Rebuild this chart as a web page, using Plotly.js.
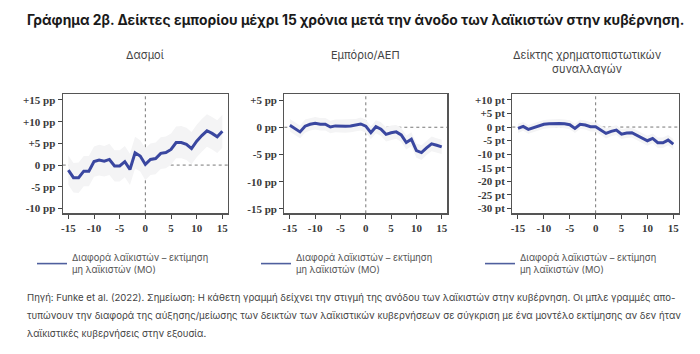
<!DOCTYPE html>
<html>
<head>
<meta charset="utf-8">
<script src="https://cdn.plot.ly/plotly-3.0.1.min.js"></script>
<style>html,body{margin:0;padding:0;background:#fff;}#chart{width:700px;height:354px;}</style>
</head>
<body>
<div id="chart"></div>
<script>
// ---- data ----
const years = [-15,-14,-13,-12,-11,-10,-9,-8,-7,-6,-5,-4,-3,-2,-1,0,1,2,3,4,5,6,7,8,9,10,11,12,13,14,15];

const tariffs      = [-1.15,-2.9,-2.9,-1.4,-1.4,0.8,1.15,0.9,1.3,-0.2,-0.2,0.8,-1.0,2.85,2.1,0.15,1.3,1.5,2.7,2.9,3.6,5.2,5.2,4.8,3.8,5.5,6.8,7.9,7.3,6.5,7.8];
const tariffsLow   = [-4.5,-6.3,-6.4,-4.9,-4.9,-2.7,-2.4,-2.6,-2.3,-3.8,-3.8,-2.8,-4.6,-0.8,-1.5,-3.5,-2.3,-2.1,-0.9,-0.7,0.1,1.6,1.6,1.2,0.2,1.8,3.1,4.2,3.6,2.8,4.0];
const tariffsHigh  = [2.2,0.5,0.6,2.1,2.1,4.3,4.7,4.4,4.9,3.4,3.4,4.4,2.6,6.5,5.7,3.9,5.0,5.2,6.4,6.6,7.3,8.9,9.0,8.6,7.6,9.3,10.6,11.7,11.1,10.3,11.6];

const trade        = [0.37,-0.25,-0.85,0.2,0.55,0.75,0.55,0.55,0.05,0.25,0.2,0.2,0.25,0.37,0.6,0.2,-1.0,0.1,-0.35,-1.3,-1.0,-0.85,-1.4,-2.8,-2.2,-4.3,-4.65,-3.8,-3.05,-3.3,-3.6];
const tradeLow     = [-0.8,-1.4,-2.0,-1.0,-0.6,-0.4,-0.6,-0.6,-1.1,-0.9,-1.0,-1.0,-0.9,-0.8,-0.6,-1.0,-2.2,-1.1,-1.6,-2.6,-2.3,-2.1,-2.7,-4.1,-3.5,-5.6,-6.0,-5.1,-4.4,-4.6,-4.9];
const tradeHigh    = [1.5,0.9,0.3,1.4,1.7,1.9,1.7,1.7,1.2,1.4,1.4,1.4,1.4,1.5,1.8,1.4,0.2,1.3,0.9,0.0,0.3,0.4,-0.1,-1.5,-0.9,-3.0,-3.3,-2.5,-1.7,-2.0,-2.3];

const finance      = [-0.5,0.25,-0.85,-0.25,0.35,1.0,1.2,1.35,1.35,1.2,0.85,-0.5,1.0,0.75,0.1,0.1,-1.1,-2.35,-1.6,-1.1,-2.6,-2.2,-2.1,-3.1,-4.1,-5.05,-4.2,-5.8,-5.8,-4.8,-6.3];
const financeLow   = [-2.2,-1.4,-2.5,-1.9,-1.3,-0.6,-0.4,-0.3,-0.3,-0.4,-0.8,-2.2,-0.7,-0.9,-1.6,-1.6,-2.9,-4.2,-3.4,-2.9,-4.4,-4.0,-3.9,-4.9,-5.9,-6.9,-6.0,-7.7,-7.7,-6.7,-8.2];
const financeHigh  = [1.2,1.9,0.8,1.4,2.0,2.6,2.8,3.0,3.0,2.8,2.5,1.2,2.7,2.4,1.8,1.8,0.7,-0.5,0.2,0.7,-0.8,-0.4,-0.3,-1.3,-2.3,-3.2,-2.4,-3.9,-3.9,-2.9,-4.4];

const panelTitles = ["Δασμοί", "Εμπόριο/ΑΕΠ", "Δείκτης χρηματοπιστωτικών<br>συναλλαγών"];
const xTickVals = [-15,-10,-5,0,5,10,15];
const xTickText = ["-15","-10","-5","0","5","10","15"];
const y1TickVals = [15,10,5,0,-5,-10];
const y1TickText = ["+15 pp","+10 pp","+5 pp","0 pp","-5 pp","-10 pp"];
const y2TickVals = [5,0,-5,-10,-15];
const y2TickText = ["+5 pp","0 pp","-5 pp","-10 pp","-15 pp"];
const y3TickVals = [10,5,0,-5,-10,-15,-20,-25,-30];
const y3TickText = ["+10 pt","+5 pt","0 pt","-5 pt","-10 pt","-15 pt","-20 pt","-25 pt","-30 pt"];
const legendLabel = "Διαφορά λαϊκιστών – εκτίμηση<br>μη λαϊκιστών (ΜΟ)";

const titleText = "Γράφημα 2β. Δείκτες εμπορίου μέχρι 15 χρόνια μετά την άνοδο των λαϊκιστών στην κυβέρνηση.";
const footerLines = [
  "Πηγή: Funke et al. (2022). Σημείωση: Η κάθετη γραμμή δείχνει την στιγμή της ανόδου των λαϊκιστών στην κυβέρνηση. Οι μπλε γραμμές απο-",
  "τυπώνουν την διαφορά της αύξησης/μείωσης των δεικτών των λαϊκιστικών κυβερνήσεων σε σύγκριση με ένα μοντέλο εκτίμησης αν δεν ήταν",
  "λαϊκιστικές κυβερνήσεις στην εξουσία."
];

// ---- build ----
const W = 700, H = 354;
const LINE = '#3a47a0';
const BAND = '#f4f4f5';
const sans = 'Inter, Noto Sans, sans-serif';
const serif = 'Liberation Serif, DejaVu Serif, serif';

const series = [
  {v: tariffs, lo: tariffsLow, hi: tariffsHigh, xa: 'x', ya: 'y', leg: 'legend'},
  {v: trade, lo: tradeLow, hi: tradeHigh, xa: 'x2', ya: 'y2', leg: 'legend2'},
  {v: finance, lo: financeLow, hi: financeHigh, xa: 'x3', ya: 'y3', leg: 'legend3'}
];

const traces = [];
series.forEach(s => {
  traces.push({x: years, y: s.lo, xaxis: s.xa, yaxis: s.ya, mode: 'lines', line: {width: 0, color: BAND}, showlegend: false, hoverinfo: 'skip'});
  traces.push({x: years, y: s.hi, xaxis: s.xa, yaxis: s.ya, mode: 'lines', fill: 'tonexty', fillcolor: BAND, line: {width: 0, color: BAND}, showlegend: false, hoverinfo: 'skip'});
  traces.push({x: years, y: s.v, xaxis: s.xa, yaxis: s.ya, mode: 'lines', line: {width: 3, color: LINE}, showlegend: false});
  traces.push({x: [null], y: [null], xaxis: s.xa, yaxis: s.ya, mode: 'lines', line: {width: 1.6, color: '#4f5f9e'}, name: legendLabel, legend: s.leg, showlegend: true});
});

const px = (a, b) => [a / W, b / W];
const yDom = [(H - 213.3) / H, (H - 94.3) / H];

function common() {
  return {ticks: 'outside', ticklen: 4, tickcolor: '#444', tickwidth: 1, showgrid: false, zeroline: false,
    showline: true, mirror: true, linecolor: '#555', linewidth: 1.2,
    tickfont: {family: serif, size: 11, color: '#3a3a3a', weight: 'bold'}};
}
function xax(dom, anchor) {
  return Object.assign(common(), {domain: dom, anchor: anchor, range: [-16.1, 16.1], tickvals: xTickVals, ticktext: xTickText});
}
function yax(range, tv, tt, anchor) {
  return Object.assign(common(), {domain: yDom, anchor: anchor, range: range, tickvals: tv, ticktext: tt});
}

const d1 = px(62.7, 228), d2 = px(284.3, 447.3), d3 = px(512.3, 679);

const shapes = [];
[['x','y'],['x2','y2'],['x3','y3']].forEach(([xa, ya]) => {
  shapes.push({type: 'line', layer: 'below', xref: xa + ' domain', yref: ya, x0: 0, x1: 1, y0: 0, y1: 0, line: {color: '#777', width: 1, dash: 'dot'}});
  shapes.push({type: 'line', layer: 'below', xref: xa, yref: ya + ' domain', x0: 0, x1: 0, y0: 0, y1: 1, line: {color: '#777', width: 1, dash: 'dot'}});
});

const annotations = [];
annotations.push({text: '<b>' + titleText + '</b>', xref: 'paper', yref: 'paper', x: 25 / W, y: 1 - 20 / H, xanchor: 'left', yanchor: 'middle', showarrow: false, font: {family: sans, size: 13.85, color: '#1a1a1a'}});
const centers = [(d1[0] + d1[1]) / 2, (d2[0] + d2[1]) / 2, (d3[0] + d3[1]) / 2 - 0.012];
panelTitles.forEach((t, i) => {
  annotations.push({text: t, xref: 'paper', yref: 'paper', x: centers[i], y: 1 - 46 / H, xanchor: 'center', yanchor: 'top', showarrow: false, font: {family: sans, size: 11, color: '#444'}});
});
footerLines.forEach((t, i) => {
  annotations.push({text: t, xref: 'paper', yref: 'paper', x: 25 / W, y: 1 - (297 + i * 18) / H, xanchor: 'left', yanchor: 'middle', showarrow: false, font: {family: sans, size: 9.6, color: '#444'}});
});

function leg(x) {
  return {x: x / W, y: 1 - 245 / H, xanchor: 'left', yanchor: 'top', bgcolor: 'rgba(0,0,0,0)', itemwidth: 30,
    font: {family: sans, size: 9.3, color: '#555'}};
}

const layout = {
  width: W, height: H, margin: {l: 0, r: 0, t: 0, b: 0},
  paper_bgcolor: '#fff', plot_bgcolor: '#fff',
  xaxis: xax(d1, 'y'), yaxis: yax([-11.1, 16.3], y1TickVals, y1TickText, 'x'),
  xaxis2: xax(d2, 'y2'), yaxis2: yax([-15.8, 6.05], y2TickVals, y2TickText, 'x2'),
  xaxis3: xax(d3, 'y3'), yaxis3: yax([-31.85, 12.1], y3TickVals, y3TickText, 'x3'),
  shapes: shapes, annotations: annotations,
  legend: leg(32), legend2: leg(256), legend3: leg(480),
  showlegend: true
};

Plotly.newPlot('chart', traces, layout, {staticPlot: true, displayModeBar: false});
</script>
</body>
</html>
